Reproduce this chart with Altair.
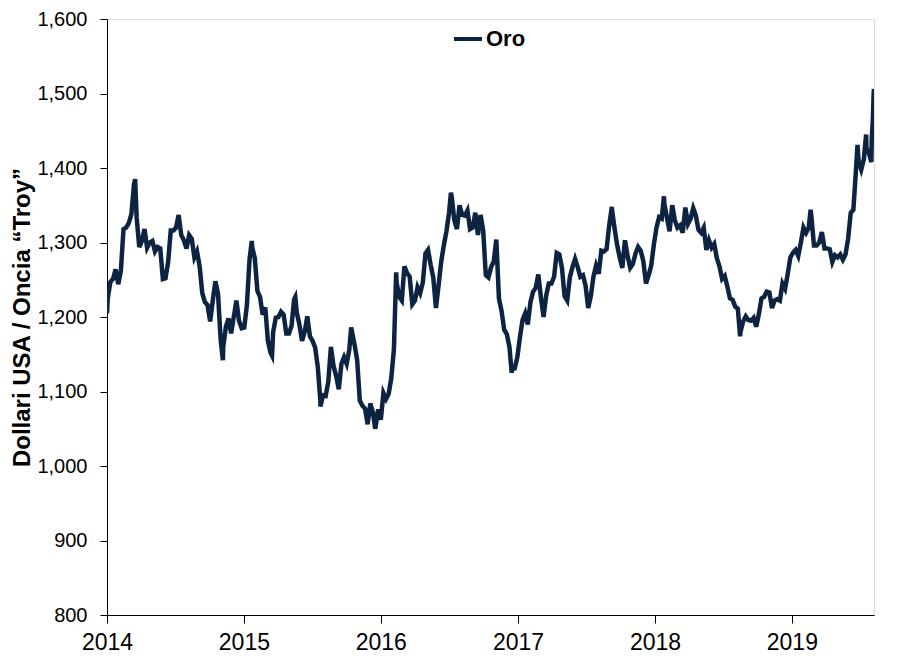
import altair as alt
import pandas as pd

# Weekly gold price readings (USD / troy ounce), each year starting on its first Friday
prices_2014 = [1225, 1247, 1251, 1264, 1244, 1262, 1318, 1320, 1326, 1338, 1378, 1334, 1294,
               1302, 1318, 1293, 1300, 1302, 1288, 1294, 1292, 1251, 1252, 1274, 1316, 1316,
               1320, 1337, 1310, 1303, 1292, 1310, 1305, 1280, 1288, 1268, 1232, 1220, 1216,
               1194, 1222, 1248, 1231, 1170, 1160, 1187, 1198, 1178, 1200, 1222, 1195, 1185]
prices_2015 = [1186, 1216, 1277, 1294, 1279, 1235, 1227, 1203, 1213, 1168, 1152, 1180, 1199,
               1200, 1207, 1203, 1178, 1178, 1188, 1224, 1206, 1190, 1168, 1180, 1201, 1174,
               1168, 1159, 1133, 1087, 1095, 1094, 1113, 1160, 1134, 1121, 1103, 1137, 1146,
               1137, 1156, 1181, 1163, 1142, 1088, 1081, 1077, 1056, 1084, 1072, 1052, 1076]
prices_2016 = [1062, 1098, 1090, 1097, 1118, 1157, 1247, 1227, 1222, 1268, 1259, 1254, 1217,
               1222, 1240, 1232, 1246, 1285, 1290, 1270, 1253, 1212, 1242, 1274, 1296, 1315,
               1340, 1362, 1330, 1318, 1350, 1337, 1336, 1343, 1318, 1320, 1340, 1310, 1337,
               1316, 1256, 1253, 1267, 1274, 1304, 1225, 1208, 1183, 1177, 1160, 1130, 1131, 1146]
prices_2017 = [1173, 1196, 1205, 1190, 1220, 1234, 1239, 1257, 1226, 1200, 1229, 1245, 1245,
               1254, 1286, 1284, 1266, 1228, 1222, 1253, 1267, 1278, 1267, 1254, 1256, 1242,
               1212, 1228, 1254, 1269, 1258, 1289, 1288, 1291, 1323, 1346, 1320, 1297, 1280,
               1266, 1303, 1282, 1266, 1271, 1285, 1294, 1289, 1275, 1245, 1256, 1269, 1297]
prices_2018 = [1320, 1334, 1332, 1352, 1333, 1315, 1350, 1330, 1320, 1323, 1313, 1347, 1325,
               1332, 1346, 1336, 1317, 1313, 1320, 1290, 1303, 1293, 1298, 1279, 1268, 1251,
               1255, 1241, 1225, 1223, 1214, 1211, 1180, 1194, 1201, 1196, 1195, 1199, 1187,
               1204, 1225, 1227, 1234, 1233, 1212, 1222, 1224, 1222, 1245, 1238, 1258, 1280]
prices_2019 = [1286, 1290, 1282, 1300, 1320, 1313, 1320, 1335, 1296, 1296, 1300, 1314, 1292,
               1292, 1291, 1274, 1283, 1280, 1284, 1277, 1284, 1305, 1340, 1344, 1398, 1409,
               1398, 1412, 1426, 1419, 1440]
year_starts = ["2014-01-03", "2015-01-02", "2016-01-01", "2017-01-06", "2018-01-05", "2019-01-04"]

# Daily extremes
extra_dates = ["2014-01-01", "2014-03-17", "2014-11-06", "2015-01-22", "2015-03-17",
               "2015-05-18", "2015-07-24", "2015-10-14", "2015-12-17", "2016-02-11",
               "2016-07-06", "2016-12-15", "2017-09-08", "2018-01-25", "2018-08-16",
               "2019-02-20", "2019-06-25", "2019-07-18", "2019-08-01", "2019-08-05",
               "2019-08-07", "2019-08-08"]
extra_prices = [1205, 1385, 1142, 1302, 1148, 1227, 1080, 1186, 1050, 1260,
                1367, 1125, 1348, 1362, 1174, 1344, 1431, 1445, 1408, 1465,
                1500, 1506]

series_name = "Oro"
y_title = "Dollari USA / Oncia \u201cTroy\u201d"
year_ticks = [2014, 2015, 2016, 2017, 2018, 2019]

rows = []
for start, prices in zip(year_starts, [prices_2014, prices_2015, prices_2016,
                                      prices_2017, prices_2018, prices_2019]):
    for d, p in zip(pd.date_range(start, periods=len(prices), freq="7D"), prices):
        rows.append({"date": d.strftime("%Y-%m-%d"), "price": p})
for d, p in zip(extra_dates, extra_prices):
    rows.append({"date": d, "price": p})
df = pd.DataFrame(rows).sort_values("date").reset_index(drop=True)
df["serie"] = series_name

FONT = "Liberation Sans"
NAVY = "#0D2342"

chart = alt.Chart(df).mark_line(strokeWidth=4.5, color=NAVY, clip=True).encode(
    x=alt.X("date:T",
            scale=alt.Scale(domain=[alt.DateTime(year=2014, month=1, date=1),
                                    alt.DateTime(year=2019, month=8, date=8)]),
            axis=alt.Axis(values=[alt.DateTime(year=y, month=1, date=1) for y in year_ticks],
                          format="%Y", title=None, grid=False, tickSize=8,
                          labelFontSize=23, labelPadding=8, labelColor="black",
                          tickColor="black", domainColor="black", labelFont=FONT,
                          labelFlush=False)),
    y=alt.Y("price:Q",
            scale=alt.Scale(domain=[800, 1600], nice=False, zero=False),
            axis=alt.Axis(values=list(range(800, 1700, 100)), format=",.0f", title=y_title,
                          grid=False, tickSize=7, labelFontSize=20, labelPadding=13,
                          labelColor="black", tickColor="black", domainColor="black",
                          labelFont=FONT, titleFont=FONT, titleFontSize=24,
                          titleFontWeight="bold", titleColor="black", titlePadding=2)),
    color=alt.Color("serie:N", scale=alt.Scale(range=[NAVY]),
                    legend=alt.Legend(title=None, orient="none", legendX=345, legendY=4,
                                      symbolType="stroke", symbolSize=784,
                                      symbolStrokeWidth=4, labelFontSize=22,
                                      labelFontWeight="bold", labelFont=FONT,
                                      labelColor="black", labelOffset=2, padding=0)),
).properties(
    width=767, height=596,
    autosize=alt.AutoSizeParams(type="none"),
    padding={"left": 107, "top": 19, "right": 35, "bottom": 45},
).configure_view(stroke="black", strokeWidth=1).configure(background="white")

chart.save("out.html", embed_options={"renderer": "svg", "actions": False})
